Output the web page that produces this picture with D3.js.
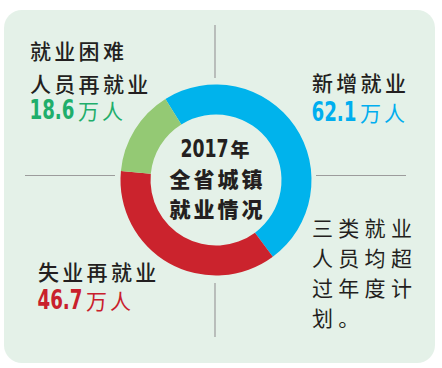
<!DOCTYPE html>
<html>
<head>
<meta charset="utf-8">
<script src="https://cdn.jsdelivr.net/npm/d3@7"></script>
<style>
  body { margin: 0; background: #fff; }
  svg { display: block; }
</style>
</head>
<body>
<div id="chart"></div>
<script>
// data
var categories = ["新增就业", "失业再就业", "就业困难人员再就业"];
var values = [62.1, 46.7, 18.6];
var ringColors = ["#00b3ec", "#cb232d", "#94c974"];
var numColors = ["#00aeef", "#c9202c", "#1fae6b"];
var unit = "万人";
var titleLines = ["2017", "全省城镇", "就业情况"];
var titleYear = "年";
var noteLines = ["三类就业", "人员均超", "过年度计", "划。"];

var W = 442, H = 368;
var cx = 216, cy = 180, outerR = 95.5, innerR = 65.5;
var cjk = "'Noto Sans CJK SC', 'Noto Sans', sans-serif";
var narrow = "'Liberation Sans Narrow', 'DejaVu Sans Condensed', 'Liberation Sans', sans-serif";

var svg = d3.select("#chart").append("svg")
    .attr("width", W)
    .attr("height", H);

// 背景
svg.append("rect")
    .attr("x", 4).attr("y", 10)
    .attr("width", 431).attr("height", 353)
    .attr("rx", 18).attr("ry", 18)
    .attr("fill", "#e4f1e8");

// 十字の線
var lines = [
  [215, 25, 215, 78],
  [215, 283, 215, 337],
  [25, 175.5, 115, 175.5],
  [316, 175.5, 406, 175.5]
];
svg.selectAll("line.guide")
    .data(lines)
    .enter()
    .append("line")
    .attr("class", "guide")
    .attr("x1", function(d){ return d[0]; })
    .attr("y1", function(d){ return d[1]; })
    .attr("x2", function(d){ return d[2]; })
    .attr("y2", function(d){ return d[3]; })
    .attr("stroke", "#9c9c9c")
    .attr("stroke-width", 1.2);

// ドーナツ
var start = -32 * Math.PI / 180;
var pie = d3.pie()
    .sort(null)
    .startAngle(start)
    .endAngle(start + 2 * Math.PI)
    .value(function(d){ return d; });
var arc = d3.arc().innerRadius(innerR).outerRadius(outerR);

svg.append("g")
    .attr("transform", "translate(" + cx + "," + cy + ")")
    .selectAll("path")
    .data(pie(values))
    .enter()
    .append("path")
    .attr("d", arc)
    .attr("fill", function(d, i){ return ringColors[i]; });

// 数字（縦長の書体）を書いて幅を返す
function condensed(g, str, x, y, size, sx, color) {
  var t = g.append("text")
      .attr("transform", "translate(" + x + "," + y + ") scale(" + sx + ",1)")
      .attr("dominant-baseline", "central")
      .attr("font-family", narrow)
      .attr("font-weight", "bold")
      .attr("font-size", size + "px")
      .attr("fill", color)
      .text(str);
  return t.node().getComputedTextLength() * sx;
}

// 中央タイトル
var title = svg.append("g").attr("fill", "#231f20");
var yr = title.append("g");
var yw = condensed(yr, titleLines[0], 0, 148.5, 24, 0.8, "#231f20");
var nen = yr.append("text")
    .attr("x", yw + 2).attr("y", 148.5)
    .attr("dominant-baseline", "central")
    .attr("font-family", cjk)
    .attr("font-weight", 900)
    .attr("font-size", "19px")
    .text(titleYear);
var totalW = yw + 2 + nen.node().getComputedTextLength();
yr.attr("transform", "translate(" + (cx - totalW / 2 - 1) + ",0)");

title.selectAll("text.tl")
    .data(titleLines.slice(1))
    .enter()
    .append("text")
    .attr("class", "tl")
    .attr("x", cx + 1.5)
    .attr("y", function(d, i){ return 178 + i * 30; })
    .attr("text-anchor", "middle")
    .attr("dominant-baseline", "central")
    .attr("font-family", cjk)
    .attr("font-weight", 900)
    .attr("font-size", "21px")
    .attr("letter-spacing", "3px")
    .text(function(d){ return d; });

// ラベル
var labels = [
  { lines: [categories[0]], x: 312, y: 82, ny: 111.5 },
  { lines: [categories[1]], x: 38, y: 271, ny: 300 },
  { lines: ["就业困难", "人员再就业"], x: 30, y: 50, ny: 110 }
];
labels.forEach(function(lb, i){
  svg.selectAll(null)
      .data(lb.lines)
      .enter()
      .append("text")
      .attr("x", lb.x)
      .attr("y", function(d, j){ return lb.y + j * 32.5; })
      .attr("dominant-baseline", "central")
      .attr("font-family", cjk)
      .attr("font-weight", 500)
      .attr("font-size", "21px")
      .attr("letter-spacing", "3.3px")
      .attr("fill", "#231f20")
      .text(function(d){ return d; });

  var nw = condensed(svg, values[i], lb.x - 0.5, lb.ny, 26, 0.78, numColors[i]);
  svg.append("text")
      .attr("x", lb.x + nw + 3)
      .attr("y", lb.ny)
      .attr("dominant-baseline", "central")
      .attr("font-family", cjk)
      .attr("font-weight", 400)
      .attr("font-size", "21px")
      .attr("letter-spacing", "3px")
      .attr("fill", numColors[i])
      .text(unit);
});

// 注記
svg.selectAll("text.note")
    .data(noteLines)
    .enter()
    .append("text")
    .attr("class", "note")
    .attr("x", 312)
    .attr("y", function(d, i){ return 227 + i * 30; })
    .attr("dominant-baseline", "central")
    .attr("font-family", cjk)
    .attr("font-weight", 400)
    .attr("font-size", "21px")
    .attr("letter-spacing", "5.3px")
    .attr("fill", "#231f20")
    .text(function(d){ return d; });
</script>
</body>
</html>
